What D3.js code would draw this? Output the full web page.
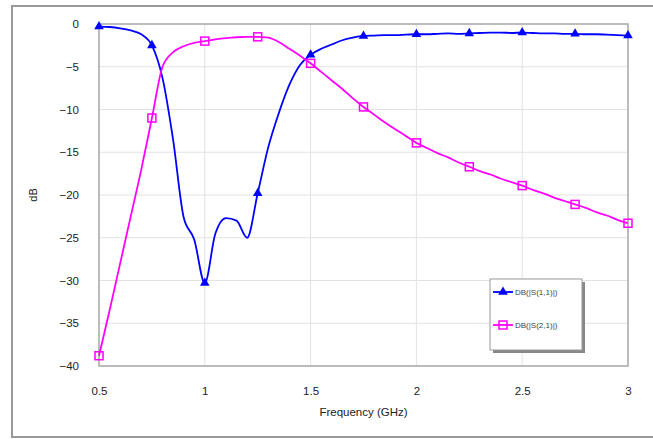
<!DOCTYPE html>
<html>
<head>
<meta charset="utf-8">
<script src="https://cdn.jsdelivr.net/npm/d3@7/dist/d3.min.js"></script>
<style>
  body { margin: 0; background: #fff; }
  text { font-family: "Liberation Sans", Arial, sans-serif; }
</style>
</head>
<body>
<div id="chart"></div>
<script>
// frequency grid (GHz) for the simulated curves
var freq = [0.50, 0.55, 0.60, 0.65, 0.70, 0.75, 0.80, 0.85, 0.90, 0.95,
            1.00, 1.05, 1.10, 1.15, 1.20, 1.25, 1.30, 1.35, 1.40, 1.45,
            1.50, 1.55, 1.60, 1.65, 1.70, 1.75, 1.80, 1.85, 1.90, 1.95,
            2.00, 2.05, 2.10, 2.15, 2.20, 2.25, 2.30, 2.35, 2.40, 2.45,
            2.50, 2.55, 2.60, 2.65, 2.70, 2.75, 2.80, 2.85, 2.90, 2.95, 3.00];

// DB(|S(1,1)|)
var s11 = [-0.3, -0.35, -0.5, -0.75, -1.2, -2.5, -6.3, -13.5, -22.6, -25.2,
           -30.3, -24.5, -22.7, -23.0, -25.0, -19.8, -14.4, -10.4, -7.1, -4.8,
           -3.6, -2.9, -2.4, -1.9, -1.6, -1.4, -1.35, -1.3, -1.3, -1.25,
           -1.2, -1.2, -1.15, -1.1, -1.15, -1.1, -1.05, -1.0, -1.0, -1.05,
           -1.0, -1.05, -1.1, -1.1, -1.15, -1.15, -1.2, -1.2, -1.25, -1.3, -1.35];

// DB(|S(2,1)|)
var s21 = [-38.8, -33.5, -28.0, -22.5, -17.0, -11.0, -5.0, -3.3, -2.6, -2.2,
           -2.0, -1.8, -1.65, -1.55, -1.5, -1.5, -1.6, -2.1, -2.9, -3.7,
           -4.6, -5.6, -6.6, -7.6, -8.7, -9.7, -10.6, -11.5, -12.3, -13.1,
           -13.9, -14.5, -15.1, -15.6, -16.2, -16.7, -17.2, -17.6, -18.1, -18.5,
           -18.9, -19.4, -19.8, -20.3, -20.7, -21.1, -21.5, -22.0, -22.4, -22.9, -23.3];

var xTicks = [0.5, 1, 1.5, 2, 2.5, 3];
var yTicks = [0, -5, -10, -15, -20, -25, -30, -35, -40];
var seriesNames = ["DB(|S(1,1)|)", "DB(|S(2,1)|)"];
var seriesColors = ["#0000ff", "#ff00ff"];

var width = 653, height = 439;
var margin = {top: 24, right: 25, bottom: 73, left: 99};

var svg = d3.select("#chart").append("svg")
    .attr("width", width)
    .attr("height", height);

// outer chart frame
svg.append("rect")
    .attr("x", 12).attr("y", 6)
    .attr("width", 660).attr("height", 431)
    .attr("fill", "none")
    .attr("stroke", "#999")
    .attr("stroke-width", 2);

var x = d3.scaleLinear().domain([0.5, 3]).range([margin.left, width - margin.right]);
var y = d3.scaleLinear().domain([-40, 0]).range([height - margin.bottom, margin.top]);

// gridlines
svg.append("g").selectAll("line.h")
    .data(yTicks).enter().append("line")
    .attr("x1", x(0.5)).attr("x2", x(3))
    .attr("y1", d => y(d)).attr("y2", d => y(d))
    .attr("stroke", "#e2e2e2");
svg.append("g").selectAll("line.v")
    .data(xTicks).enter().append("line")
    .attr("x1", d => x(d)).attr("x2", d => x(d))
    .attr("y1", y(0)).attr("y2", y(-40))
    .attr("stroke", "#e2e2e2");

// plot border
svg.append("rect")
    .attr("x", x(0.5)).attr("y", y(0))
    .attr("width", x(3) - x(0.5)).attr("height", y(-40) - y(0))
    .attr("fill", "none")
    .attr("stroke", "#aaa")
    .attr("stroke-width", 1.5);

// axes (labels only, Excel style)
var yAxis = svg.append("g")
    .attr("transform", "translate(" + (x(0.5) - 17) + ",0)")
    .call(d3.axisLeft(y).tickValues(yTicks).tickSize(0).tickFormat(d3.format("d")));
yAxis.select(".domain").remove();
yAxis.selectAll("text").attr("font-size", 11.5).attr("fill", "#222");

var xAxis = svg.append("g")
    .attr("transform", "translate(0," + (y(-40) + 18) + ")")
    .call(d3.axisBottom(x).tickValues(xTicks).tickSize(0).tickFormat(d => d));
xAxis.select(".domain").remove();
xAxis.selectAll("text").attr("font-size", 11.5).attr("fill", "#222");

svg.append("text")
    .attr("x", (x(0.5) + x(3)) / 2)
    .attr("y", 416)
    .attr("text-anchor", "middle")
    .attr("font-size", 11.5)
    .attr("fill", "#222")
    .text("Frequency (GHz)");

svg.append("text")
    .attr("transform", "translate(37," + y(-20) + ") rotate(-90)")
    .attr("text-anchor", "middle")
    .attr("font-size", 11)
    .attr("fill", "#222")
    .text("dB");

// curves
var line = d3.line().curve(d3.curveMonotoneX)
    .x(d => x(d[0])).y(d => y(d[1]));

var series = [s11, s21].map(vals => freq.map((f, i) => [f, vals[i]]));

series.forEach(function(pts, k) {
    svg.append("path")
        .datum(pts)
        .attr("d", line)
        .attr("fill", "none")
        .attr("stroke", seriesColors[k])
        .attr("stroke-width", 1.8);
});

// markers every 0.25 GHz
var tri = d3.symbol().type(d3.symbolTriangle).size(40);
function markerPts(pts) {
    return pts.filter(p => Math.abs(p[0] * 4 - Math.round(p[0] * 4)) < 1e-6);
}
svg.append("g").selectAll("path")
    .data(markerPts(series[0])).enter().append("path")
    .attr("d", tri)
    .attr("transform", d => "translate(" + x(d[0]) + "," + y(d[1]) + ")")
    .attr("fill", seriesColors[0]);
svg.append("g").selectAll("rect")
    .data(markerPts(series[1])).enter().append("rect")
    .attr("x", d => x(d[0]) - 4).attr("y", d => y(d[1]) - 4)
    .attr("width", 8).attr("height", 8)
    .attr("fill", "none")
    .attr("stroke", seriesColors[1])
    .attr("stroke-width", 1.5);

// legend
var lg = svg.append("g").attr("transform", "translate(490,279)");
lg.append("rect").attr("x", 3).attr("y", 3).attr("width", 92).attr("height", 71).attr("fill", "#888");
lg.append("rect").attr("x", 0).attr("y", 0).attr("width", 92).attr("height", 71)
    .attr("fill", "#fff").attr("stroke", "#999");
seriesNames.forEach(function(name, k) {
    var cy = 13 + k * 33;
    lg.append("line").attr("x1", 3).attr("x2", 23).attr("y1", cy).attr("y2", cy)
        .attr("stroke", seriesColors[k]).attr("stroke-width", 1.8);
    if (k === 0) {
        lg.append("path").attr("d", tri).attr("transform", "translate(13," + cy + ")")
            .attr("fill", seriesColors[k]);
    } else {
        lg.append("rect").attr("x", 9).attr("y", cy - 4).attr("width", 8).attr("height", 8)
            .attr("fill", "none").attr("stroke", seriesColors[k]).attr("stroke-width", 1.5);
    }
    lg.append("text").attr("x", 25).attr("y", cy + 3)
        .attr("font-size", 8).attr("fill", "#444").text(name);
});
</script>
</body>
</html>
